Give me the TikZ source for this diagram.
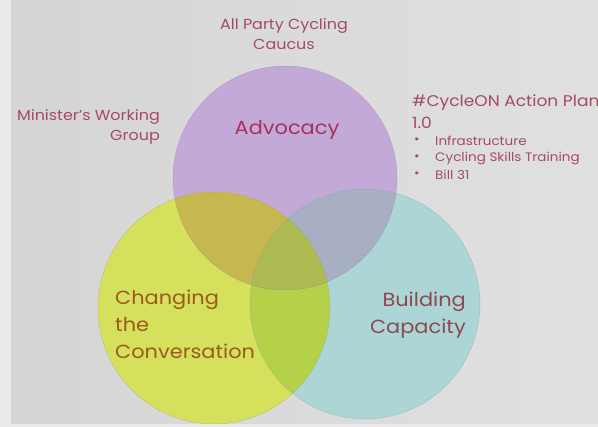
\documentclass[tikz,border=0pt]{standalone}
\usepackage{fontspec}
\setmainfont[FakeStretch=1.1]{Poppins}
\definecolor{bgL}{HTML}{D5D5D5}
\definecolor{bgR}{HTML}{E0E0E0}
\definecolor{edgestrip}{HTML}{EAEAEA}
\definecolor{cP}{HTML}{C2A9D7}
\definecolor{cY}{HTML}{D5E05C}
\definecolor{cT}{HTML}{ABD6D5}
\definecolor{cPY}{HTML}{C7B74F}
\definecolor{cPT}{HTML}{A8AFC3}
\definecolor{cYT}{HTML}{B5D14A}
\definecolor{cPYT}{HTML}{AEBA52}
\definecolor{tAdv}{HTML}{A8305A}
\definecolor{tChg}{HTML}{9B5A1E}
\definecolor{tBld}{HTML}{8E4850}
\definecolor{tSide}{HTML}{A64A62}
\begin{document}
\begin{tikzpicture}[x=1pt,y=-1pt,
  big/.style={font=\fontsize{19}{27}\selectfont, inner sep=0pt},
  side/.style={font=\fontsize{14.5}{20}\selectfont, text=tSide, inner sep=0pt},
  head/.style={font=\fontsize{15.5}{18}\selectfont, text=tSide, inner sep=0pt, anchor=west},
  item/.style={font=\fontsize{12.3}{14}\selectfont, text=tSide, inner sep=0pt, anchor=west},
  rim/.style={line width=0.5pt, draw opacity=0.35}]
\def\circA{(285,178) circle [radius=112]}
\def\circB{(214,308) circle [radius=116]}
\def\circC{(365,304) circle [radius=115]}
\useasboundingbox (0,0) rectangle (598,427);
\clip (0,0) rectangle (598,427);
\shade[left color=bgL, right color=bgR] (0,0) rectangle (598,427);
\fill[edgestrip] (0,0) rectangle (11,427);
\fill[edgestrip] (0,424) rectangle (598,427);
% circles
\fill[cP] \circA;
\fill[cY] \circB;
\fill[cT] \circC;
\begin{scope}
  \clip \circB;
  \fill[cYT] \circC;
\end{scope}
\begin{scope}
  \clip \circA;
  \fill[cPY] \circB;
  \fill[cPT] \circC;
  \clip \circB;
  \fill[cPYT] \circC;
\end{scope}
\draw[rim, draw=cP!70!black] \circA;
\draw[rim, draw=cY!70!black] \circB;
\draw[rim, draw=cT!70!black] \circC;
% labels in circles
\node[big, text=tAdv] (adv) at (287,130) {Advocacy};
\node[big, text=tChg, align=left, anchor=west] (chg) at (115,324) {Changing\\the\\Conversation};
\node[big, text=tBld, align=right, anchor=east] (bld) at (466,315) {Building\\Capacity};
% side texts
\node[side, align=center] (caucus) at (284,34) {All Party Cycling\\Caucus};
\node[side, align=right, anchor=east] (mwg) at (160,127) {Minister's Working\\Group};
\node[head] (plan) at (412,103) {\#CycleON Action Plan};
\node[head] (ver) at (412,123) {1.0};
\node[item] (b1) at (414,141) {•};
\node[item] (i1) at (435,141) {Infrastructure};
\node[item] (b2) at (414,158) {•};
\node[item] (i2) at (435,158) {Cycling Skills Training};
\node[item] (b3) at (414,175) {•};
\node[item] (i3) at (435,175) {Bill 31};
\end{tikzpicture}
\end{document}
